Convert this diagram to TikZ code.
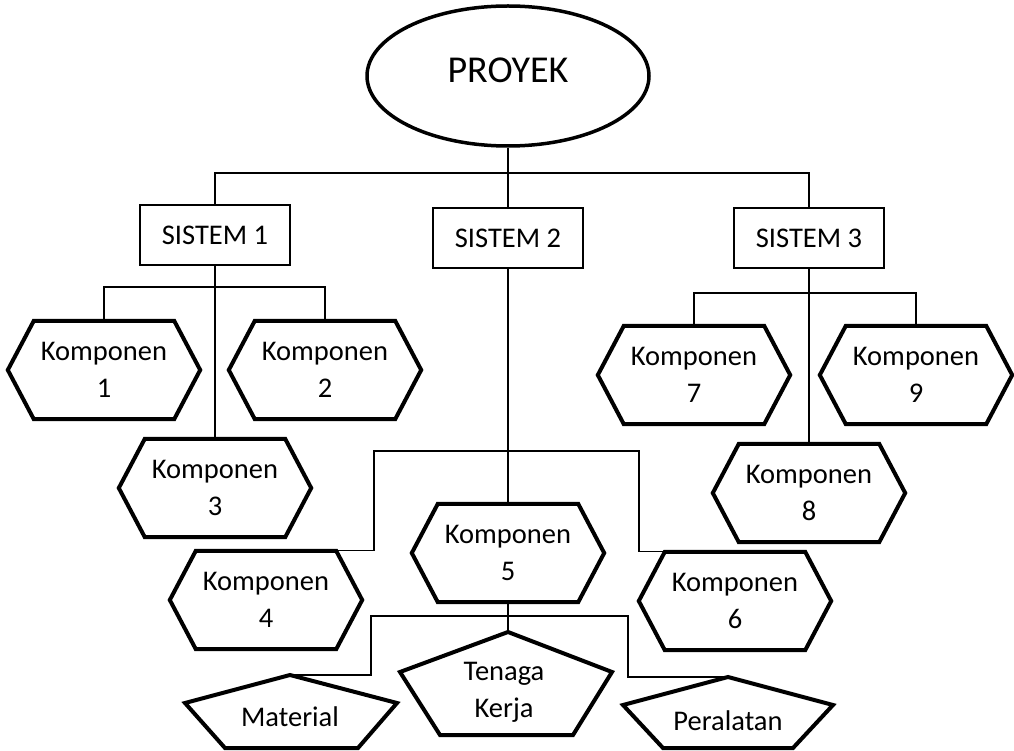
\documentclass[tikz,border=0pt]{standalone}
\usepackage{fontspec}
\setmainfont{Carlito}
\usetikzlibrary{shapes.geometric,calc}
\newcommand{\komfont}{\fontsize{28.5}{37}\selectfont}
\begin{document}
\begin{tikzpicture}[x=1pt,y=-1pt,
  hexbox/.style={minimum width=192pt,minimum height=98pt,inner sep=0pt,align=center,font=\komfont},
  hexline/.style={line width=4pt,line join=miter},
  sisbox/.style={draw,line width=1.3pt,minimum width=150pt,minimum height=60pt,inner sep=0pt,font=\komfont},
  pentext/.style={inner sep=0pt,align=center,font=\komfont},
  conn/.style={line width=1.3pt}]
\useasboundingbox (0,0) rectangle (1014,751);
% root
\node[ellipse,draw,line width=3.5pt,minimum width=282pt,minimum height=140pt,inner sep=0pt,text depth=12pt,font=\fontsize{38}{42}\selectfont] (proj) at (508,76) {PROYEK};
% systems
\node[sisbox] (s1) at (215,235) {SISTEM 1};
\node[sisbox] (s2) at (508,238) {SISTEM 2};
\node[sisbox] (s3) at (809,238) {SISTEM 3};
% components
\node[hexbox] (k1) at (104,370) {Komponen\\1};
\node[hexbox] (k2) at (325,370) {Komponen\\2};
\node[hexbox] (k3) at (215,488) {Komponen\\3};
\node[hexbox] (k4) at (266,600) {Komponen\\4};
\node[hexbox] (k5) at (508,553) {Komponen\\5};
\node[hexbox] (k6) at (735,601) {Komponen\\6};
\node[hexbox] (k7) at (694,375) {Komponen\\7};
\node[hexbox] (k8) at (809,493) {Komponen\\8};
\node[hexbox] (k9) at (916,375) {Komponen\\9};
\foreach \n in {k1,k2,k3,k4,k5,k6,k7,k8,k9}
  \draw[hexline] (\n.west) -- ([xshift=26pt]\n.north west) -- ([xshift=-26pt]\n.north east)
     -- (\n.east) -- ([xshift=-26pt]\n.south east) -- ([xshift=26pt]\n.south west) -- cycle;
% resources (pentagons)
\coordinate (mat-t) at (290,675); \coordinate (mat-ul) at (185,703); \coordinate (mat-ur) at (397,703);
\coordinate (mat-bl) at (225,748); \coordinate (mat-br) at (358,748);
\coordinate (tk-t) at (508,632); \coordinate (tk-ul) at (400,672); \coordinate (tk-ur) at (612,672);
\coordinate (tk-bl) at (440,735); \coordinate (tk-br) at (573,735);
\coordinate (per-t) at (728,677); \coordinate (per-ul) at (623,705); \coordinate (per-ur) at (833,705);
\coordinate (per-bl) at (663,748); \coordinate (per-br) at (793,748);
\foreach \n in {mat,tk,per}
  \draw[hexline] (\n-t) -- (\n-ur) -- (\n-br) -- (\n-bl) -- (\n-ul) -- cycle;
\node[pentext] (mat) at (290,717) {Material};
\node[pentext] (tk) at (504,692) {Tenaga\\Kerja};
\node[pentext] (per) at (728,721) {Peralatan};
% connectors
\coordinate (bus0) at (508,173);
\draw[conn] (s1.north) |- (bus0) -| (s3.north);
\draw[conn] (proj.south) -- (s2.north);
\draw[conn] (s1.south) -- (k3.north);
\coordinate (bus1) at (215,287);
\draw[conn] (k1.north) |- (bus1) -| (k2.north);
\draw[conn] (s3.south) -- (k8.north);
\coordinate (bus3) at (809,293);
\draw[conn] (k7.north) |- (bus3) -| (k9.north);
\draw[conn] (s2.south) -- (k5.north);
\coordinate (bus2l) at (374,451); \coordinate (bus2r) at (639,451);
\draw[conn] ([xshift=-26pt]k4.north east) -| (bus2l) -- (bus2r) |- ([xshift=26pt]k6.north west);
\draw[conn] (k5.south) -- (tk-t);
\coordinate (bus4l) at (371,616); \coordinate (bus4r) at (628,616);
\draw[conn] (mat-t) -| (bus4l) -- (bus4r) |- (per-t);
\end{tikzpicture}
\end{document}
